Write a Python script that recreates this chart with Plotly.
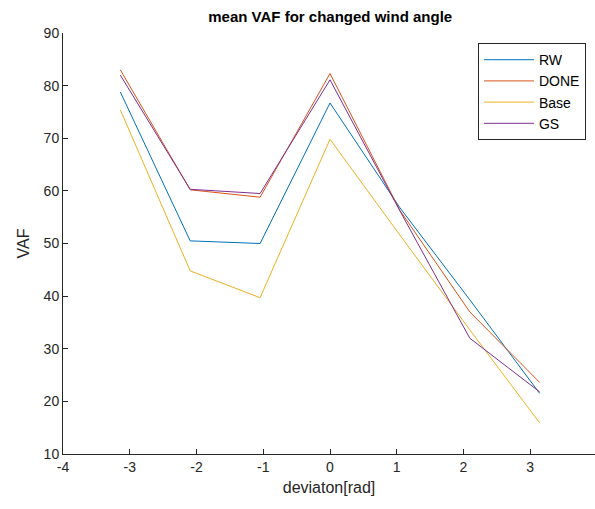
import numpy as np
import plotly.graph_objects as go

x_vals = [-np.pi, -2*np.pi/3, -np.pi/3, 0, np.pi/3, 2*np.pi/3, np.pi]
rw = [78.8, 50.5, 50.0, 76.7, 56.8, 39.3, 21.5]
done = [83.0, 60.2, 58.8, 82.3, 56.3, 37.0, 23.6]
base = [75.4, 44.8, 39.7, 69.8, 51.6, 33.6, 15.9]
gs = [82.0, 60.3, 59.5, 81.1, 56.2, 32.0, 21.8]
series_names = ["RW", "DONE", "Base", "GS"]
colors = ["#0072BD", "#D95319", "#EDB120", "#7E2F8E"]
x_ticks = [-4, -3, -2, -1, 0, 1, 2, 3, 4]
x_ticktext = ["-4", "-3", "-2", "-1", "0", "1", "2", "3", "4"]
y_ticks = [10, 20, 30, 40, 50, 60, 70, 80, 90]

fig = go.Figure()
for name, vals, c in zip(series_names, [rw, done, base, gs], colors):
    fig.add_trace(go.Scatter(x=x_vals, y=vals, mode="lines", name=name,
                             line=dict(color=c, width=1)))

axis_common = dict(showline=True, linecolor="#262626", linewidth=1, mirror=False,
                   ticks="inside", ticklen=5, tickcolor="#262626", showgrid=False,
                   zeroline=False, tickfont=dict(size=14, color="#262626"))

fig.update_layout(
    width=595, height=509,
    margin=dict(l=63, r=0, t=33, b=55),
    paper_bgcolor="white", plot_bgcolor="white",
    font=dict(family="Liberation Sans, Arial, sans-serif", color="#262626"),
    title=dict(text="<b>mean VAF for changed wind angle</b>", x=0.555, xanchor="center",
               y=0.967, yanchor="middle", font=dict(size=15, color="black")),
    xaxis=dict(range=[-4, 3.97], tickvals=x_ticks, ticktext=x_ticktext,
               title=dict(text="deviaton[rad]", font=dict(size=16), standoff=8),
               **axis_common),
    yaxis=dict(range=[10, 90], tickvals=y_ticks,
               title=dict(text="VAF", font=dict(size=16), standoff=10),
               **axis_common),
    legend=dict(x=0.78, y=0.976, xanchor="left", yanchor="top",
                bordercolor="#262626", borderwidth=1, bgcolor="white",
                font=dict(size=14, color="black"), tracegroupgap=0,
                itemwidth=50, entrywidth=95),
)

fig.write_html("out.html")
